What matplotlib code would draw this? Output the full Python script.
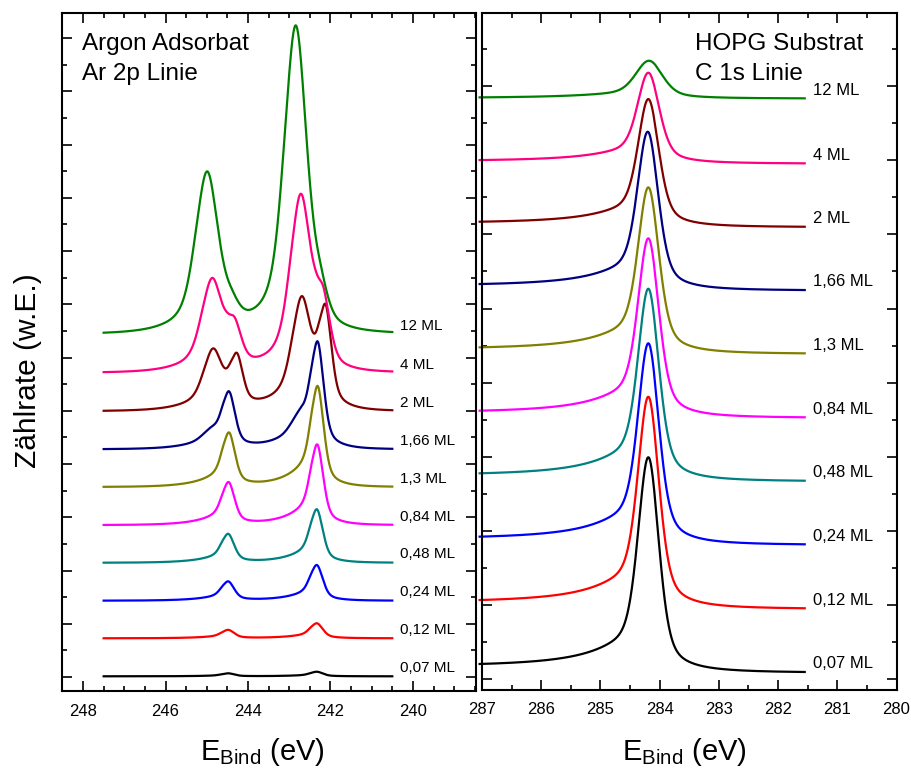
import numpy as np
import matplotlib
matplotlib.use("Agg")
import matplotlib.pyplot as plt
from matplotlib.ticker import MultipleLocator, NullFormatter

plt.rcParams['font.family'] = ['Liberation Sans', 'DejaVu Sans']
plt.rcParams['mathtext.fontset'] = 'custom'
plt.rcParams['mathtext.rm'] = 'Liberation Sans'
plt.rcParams['mathtext.it'] = 'Liberation Sans:italic'

# ---------------------------------------------------------------- data
coverage = ["0,07 ML", "0,12 ML", "0,24 ML", "0,48 ML", "0,84 ML",
            "1,3 ML", "1,66 ML", "2 ML", "4 ML", "12 ML"]
colors = ["#000000", "#ff0000", "#0000ff", "#008080", "#ff00ff",
          "#808000", "#000080", "#800000", "#ff0080", "#008000"]

# Ar 2p (stacked, arbitrary units): baseline of every spectrum
ar_baseline = [0.013, 0.727, 1.433, 2.145, 2.853, 3.568, 4.276, 4.99, 5.709, 6.432]
# first-layer doublet: 2p3/2 energy, 2p3/2 height, 2p1/2 height, width factor
ar_lo_pos = [242.33, 242.33, 242.33, 242.33, 242.32, 242.31, 242.31, 242.12, 242.18, 242.25]
ar_lo_h32 = [0.086, 0.282, 0.670, 1.005, 1.515, 1.897, 1.980, 1.850, 1.200, 0.550]
ar_lo_h12 = [0.056, 0.156, 0.357, 0.535, 0.795, 1.008, 1.040, 0.950, 0.750, 0.300]
ar_lo_wf = [1.0, 1.0, 1.0, 1.0, 1.0, 1.0, 1.0, 1.0, 1.2, 1.3]
# multilayer doublet
ar_hi_pos = [242.75, 242.75, 242.75, 242.75, 242.75, 242.75, 242.75, 242.70, 242.72, 242.84]
ar_hi_h32 = [0.0, 0.0, 0.0, 0.0, 0.0, 0.0, 0.300, 1.850, 3.150, 5.700]
ar_hi_h12 = [0.0, 0.0, 0.0, 0.0, 0.0, 0.0, 0.170, 1.000, 1.620, 2.950]
ar_hi_wf = [1.0, 1.0, 1.0, 1.0, 1.0, 1.0, 1.4, 1.5, 1.7, 1.9]
ar_split = 2.15

# C 1s (stacked, arbitrary units): level at 287 eV, at 281.55 eV, peak top
c1s_left = [0.209, 1.071, 1.925, 2.779, 3.623, 4.477, 5.330, 6.170, 7.001, 7.846]
c1s_right = [0.101, 0.960, 1.822, 2.679, 3.534, 4.396, 5.249, 6.102, 6.957, 7.833]
c1s_top = [2.995, 3.811, 4.531, 5.267, 5.946, 6.633, 7.383, 7.823, 8.178, 8.340]
c1s_pos = [284.19, 284.19, 284.19, 284.19, 284.19, 284.19, 284.20, 284.19, 284.19, 284.18]
c1s_wf = [1.0, 1.0, 1.0, 1.0, 1.0, 1.0, 1.0, 1.0, 1.05, 1.3]

LN2 = np.log(2.0)
_grid = np.linspace(-3, 3, 6001)


def _ar_raw(d, wf):
    w = 0.16 * wf
    core = 0.6 * np.exp(-LN2 * (d / w) ** 2) + 0.4 / (1 + (d / w) ** 2)
    on_hi = 0.5 * (1 + np.tanh((d - 0.12 * wf) / (0.08 * wf)))
    on_lo = 0.5 * (1 + np.tanh((-d - 0.12 * wf) / (0.08 * wf)))
    hi = (0.40 / wf) * np.exp(-np.clip(d, 0, None) / 0.55) * on_hi
    lo = (0.15 / wf) * np.exp(np.clip(d, None, 0) / 0.35) * on_lo
    return core + hi + lo


def ar_line(x, x0, wf):
    """Ar 2p component: pseudo-Voigt core with loss tail towards higher BE (peak = 1)."""
    return _ar_raw(x - x0, wf) / _ar_raw(_grid, wf).max()


def c1s_line(x, x0, wf):
    """Asymmetric C 1s line of graphite (broader wing towards higher BE)."""
    d = x - x0
    w = 0.20 * wf
    core = 0.7 * np.exp(-LN2 * (d / w) ** 2) + 0.3 / (1 + (d / w) ** 2)
    ww = np.where(d > 0, 0.85, 0.35) * wf
    wing = 1 / (1 + (d / ww) ** 2)
    return 0.85 * core + 0.15 * wing


# ---------------------------------------------------------------- figure
fig = plt.figure(figsize=(9.11, 7.71), dpi=100)
W, H = 911.0, 771.0

axL = fig.add_axes([62 / W, 1 - 691 / H, 414 / W, 678.5 / H])
axR = fig.add_axes([482 / W, 1 - 689.5 / H, 414.5 / W, 677 / H])

for ax in (axL, axR):
    for s in ax.spines.values():
        s.set_linewidth(1.5)
    ax.tick_params(which='both', direction='in', top=True, right=True,
                   left=True, bottom=True, labelsize=12, pad=9, width=1.2)
    ax.tick_params(which='major', length=7)
    ax.tick_params(which='minor', length=3.7)
    ax.yaxis.set_major_formatter(NullFormatter())
    ax.yaxis.set_major_locator(MultipleLocator(1))
    ax.yaxis.set_minor_locator(MultipleLocator(0.5))

# Ar 2p panel
axL.set_xlim(248.51, 238.47)
axL.set_ylim(-0.263, 12.48)
axL.xaxis.set_major_locator(MultipleLocator(2))
axL.xaxis.set_minor_locator(MultipleLocator(0.5))

xa = np.linspace(247.5, 240.5, 1401)
for i, lab in enumerate(coverage):
    y = np.full_like(xa, ar_baseline[i])
    for pos, h32, h12, wf in ((ar_lo_pos[i], ar_lo_h32[i], ar_lo_h12[i], ar_lo_wf[i]),
                              (ar_hi_pos[i], ar_hi_h32[i], ar_hi_h12[i], ar_hi_wf[i])):
        y += h32 * ar_line(xa, pos, wf)
        y += h12 * ar_line(xa, pos + ar_split, wf)
    axL.plot(xa, y, color=colors[i], lw=1.6)
    axL.annotate(lab, (240.31, ar_baseline[i]), xytext=(0, 6.1),
                 textcoords='offset points', ha='left', va='center', fontsize=11)

# C 1s panel
axR.set_xlim(287, 280)
axR.set_ylim(-0.135, 8.99)
axR.xaxis.set_major_locator(MultipleLocator(1))
axR.xaxis.set_minor_locator(MultipleLocator(0.5))

xc = np.linspace(281.55, 287.04, 1401)
for i, lab in enumerate(coverage):
    shp = c1s_line(xc, c1s_pos[i], c1s_wf[i])
    cum = np.cumsum(shp)
    S = (cum - cum[0]) / (cum[-1] - cum[0])        # Shirley-type step
    k0 = np.argmin(np.abs(xc - c1s_pos[i]))
    S0, sL, sR = S[k0], shp[-1], shp[0]
    L, R, T = c1s_left[i], c1s_right[i], c1s_top[i]
    amp = (T - R - S0 * (L - R)) / (1 - sR - S0 * (sL - sR))
    bgL, bgR = L - amp * sL, R - amp * sR
    y = bgR + (bgL - bgR) * S + amp * shp
    axR.plot(xc, y, color=colors[i], lw=1.6, clip_on=False)
    axR.annotate(lab, (281.41, R), xytext=(0, 5.8),
                 textcoords='offset points', ha='left', va='center', fontsize=12)

# texts
fig.text(82 / W, 1 - 50 / H, "Argon Adsorbat", fontsize=17.5, va='baseline', ha='left')
fig.text(82 / W, 1 - 80 / H, "Ar 2p Linie", fontsize=17.5, va='baseline', ha='left')
fig.text(695 / W, 1 - 50 / H, "HOPG Substrat", fontsize=17.5, va='baseline', ha='left')
fig.text(695 / W, 1 - 80 / H, "C 1s Linie", fontsize=17.5, va='baseline', ha='left')

xlab = r"E$_{\mathrm{Bind}}$ (eV)"
fig.text(262.5 / W, 1 - 760 / H, xlab, fontsize=21, va='baseline', ha='center')
fig.text(684 / W, 1 - 760 / H, xlab, fontsize=21, va='baseline', ha='center')
fig.text(28 / W, 1 - 371 / H, "Zählrate (w.E.)", fontsize=21.5, rotation=90,
         va='center', ha='center')

fig.savefig("out.png", dpi=100)
